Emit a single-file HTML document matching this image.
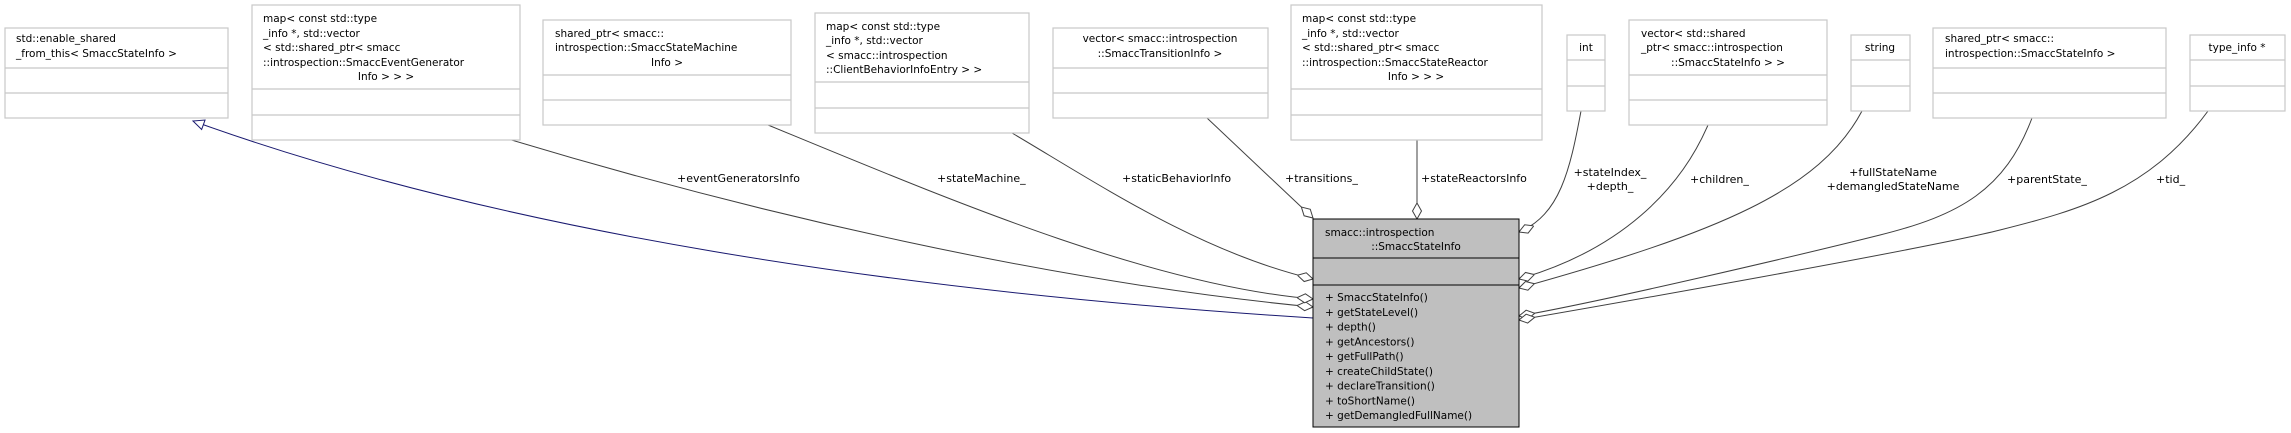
<!DOCTYPE html>
<html><head><meta charset="utf-8"><style>
html,body{margin:0;padding:0;background:#fff;}
svg{display:block;}
text{font-family:"DejaVu Sans","Liberation Sans",sans-serif;font-size:10.5px;fill:#000;}
.bx{fill:#fff;stroke:#c8c8c8;stroke-width:1.2;}
.dv{stroke:#c8c8c8;stroke-width:1.2;}
.e{fill:none;stroke:#404040;stroke-width:1;}
.lb{font-size:11px;}
</style></head><body>
<svg width="2291" height="433" viewBox="0 0 2291 433" xmlns="http://www.w3.org/2000/svg">
<defs>
<marker id="dm" markerUnits="userSpaceOnUse" markerWidth="20" markerHeight="12" refX="16" refY="6" orient="auto">
<path d="M16,6 L8,1.5 L0,6 L8,10.5 Z" fill="#fff" stroke="#404040" stroke-width="1"/>
</marker>
<marker id="tri" markerUnits="userSpaceOnUse" markerWidth="14" markerHeight="12" refX="12" refY="6" orient="auto">
<path d="M12,6 L1,1 L1,11 Z" fill="#fff" stroke="#191970" stroke-width="1"/>
</marker>
</defs>

<!-- edges -->
<path class="e" style="stroke:#191970" d="M1313,318 C900,292 500,232 193,121" marker-end="url(#tri)"/>
<path class="e" d="M508,139 C750,212 1050,282 1313,307" marker-end="url(#dm)"/>
<path class="e" d="M768,125 C950,200 1150,285 1313,299" marker-end="url(#dm)"/>
<path class="e" d="M1012,133 C1100,185 1200,252 1313,279" marker-end="url(#dm)"/>
<path class="e" d="M1207,118 L1313,218" marker-end="url(#dm)"/>
<path class="e" d="M1417,140 L1417,219" marker-end="url(#dm)"/>
<path class="e" d="M1581,111 C1570,170 1560,215 1519,232" marker-end="url(#dm)"/>
<path class="e" d="M1708,125 C1680,190 1620,250 1519,279" marker-end="url(#dm)"/>
<path class="e" d="M1862,111 C1820,190 1720,232 1519,288" marker-end="url(#dm)"/>
<path class="e" d="M2032,118 C2005,190 1960,215 1880,235 S1600,302 1519,316" marker-end="url(#dm)"/>
<path class="e" d="M2208,111 C2150,190 2080,210 2000,230 S1600,306 1519,320" marker-end="url(#dm)"/>

<!-- edge labels -->
<text class="lb" x="677" y="182">+eventGeneratorsInfo</text>
<text class="lb" x="937" y="182">+stateMachine_</text>
<text class="lb" x="1122" y="182">+staticBehaviorInfo</text>
<text class="lb" x="1285" y="182">+transitions_</text>
<text class="lb" x="1421" y="182">+stateReactorsInfo</text>
<text class="lb" x="1610" y="176" text-anchor="middle">+stateIndex_</text>
<text class="lb" x="1610" y="190" text-anchor="middle">+depth_</text>
<text class="lb" x="1690" y="183">+children_</text>
<text class="lb" x="1893" y="176" text-anchor="middle">+fullStateName</text>
<text class="lb" x="1893" y="190" text-anchor="middle">+demangledStateName</text>
<text class="lb" x="2007" y="183">+parentState_</text>
<text class="lb" x="2156" y="183">+tid_</text>

<!-- box1 -->
<rect class="bx" x="5" y="28" width="223" height="90"/>
<line class="dv" x1="5" y1="68" x2="228" y2="68"/><line class="dv" x1="5" y1="93" x2="228" y2="93"/>
<text x="16" y="42">std::enable_shared</text>
<text x="16" y="57">_from_this&lt; SmaccStateInfo &gt;</text>

<!-- box2 -->
<rect class="bx" x="252" y="5" width="268" height="135"/>
<line class="dv" x1="252" y1="89" x2="520" y2="89"/><line class="dv" x1="252" y1="115" x2="520" y2="115"/>
<text x="263" y="22">map&lt; const std::type</text>
<text x="263" y="37">_info *, std::vector</text>
<text x="263" y="51">&lt; std::shared_ptr&lt; smacc</text>
<text x="263" y="66">::introspection::SmaccEventGenerator</text>
<text x="386" y="80" text-anchor="middle">Info &gt; &gt; &gt;</text>

<!-- box3 -->
<rect class="bx" x="543" y="20" width="248" height="105"/>
<line class="dv" x1="543" y1="75" x2="791" y2="75"/><line class="dv" x1="543" y1="100" x2="791" y2="100"/>
<text x="555" y="37">shared_ptr&lt; smacc::</text>
<text x="555" y="51">introspection::SmaccStateMachine</text>
<text x="667" y="66" text-anchor="middle">Info &gt;</text>

<!-- box4 -->
<rect class="bx" x="815" y="13" width="214" height="120"/>
<line class="dv" x1="815" y1="82" x2="1029" y2="82"/><line class="dv" x1="815" y1="108" x2="1029" y2="108"/>
<text x="826" y="30">map&lt; const std::type</text>
<text x="826" y="44">_info *, std::vector</text>
<text x="826" y="59">&lt; smacc::introspection</text>
<text x="826" y="73">::ClientBehaviorInfoEntry &gt; &gt;</text>

<!-- box5 -->
<rect class="bx" x="1053" y="28" width="215" height="90"/>
<line class="dv" x1="1053" y1="68" x2="1268" y2="68"/><line class="dv" x1="1053" y1="93" x2="1268" y2="93"/>
<text x="1160" y="42" text-anchor="middle">vector&lt; smacc::introspection</text>
<text x="1160" y="57" text-anchor="middle">::SmaccTransitionInfo &gt;</text>

<!-- box6 -->
<rect class="bx" x="1291" y="5" width="251" height="135"/>
<line class="dv" x1="1291" y1="89" x2="1542" y2="89"/><line class="dv" x1="1291" y1="115" x2="1542" y2="115"/>
<text x="1302" y="22">map&lt; const std::type</text>
<text x="1302" y="37">_info *, std::vector</text>
<text x="1302" y="51">&lt; std::shared_ptr&lt; smacc</text>
<text x="1302" y="66">::introspection::SmaccStateReactor</text>
<text x="1416" y="80" text-anchor="middle">Info &gt; &gt; &gt;</text>

<!-- int -->
<rect class="bx" x="1567" y="35" width="38" height="76"/>
<line class="dv" x1="1567" y1="60" x2="1605" y2="60"/><line class="dv" x1="1567" y1="86" x2="1605" y2="86"/>
<text x="1586" y="51" text-anchor="middle">int</text>

<!-- box8 -->
<rect class="bx" x="1629" y="20" width="198" height="105"/>
<line class="dv" x1="1629" y1="75" x2="1827" y2="75"/><line class="dv" x1="1629" y1="100" x2="1827" y2="100"/>
<text x="1641" y="37">vector&lt; std::shared</text>
<text x="1641" y="51">_ptr&lt; smacc::introspection</text>
<text x="1728" y="66" text-anchor="middle">::SmaccStateInfo &gt; &gt;</text>

<!-- string -->
<rect class="bx" x="1851" y="35" width="59" height="76"/>
<line class="dv" x1="1851" y1="60" x2="1910" y2="60"/><line class="dv" x1="1851" y1="86" x2="1910" y2="86"/>
<text x="1880" y="51" text-anchor="middle">string</text>

<!-- box10 -->
<rect class="bx" x="1933" y="28" width="233" height="90"/>
<line class="dv" x1="1933" y1="68" x2="2166" y2="68"/><line class="dv" x1="1933" y1="93" x2="2166" y2="93"/>
<text x="1945" y="42">shared_ptr&lt; smacc::</text>
<text x="1945" y="57">introspection::SmaccStateInfo &gt;</text>

<!-- type_info -->
<rect class="bx" x="2190" y="35" width="95" height="76"/>
<line class="dv" x1="2190" y1="60" x2="2285" y2="60"/><line class="dv" x1="2190" y1="86" x2="2285" y2="86"/>
<text x="2237" y="51" text-anchor="middle">type_info *</text>

<!-- main box -->
<rect x="1313" y="219" width="206" height="208" fill="#bfbfbf" stroke="#000" stroke-width="1"/>
<line x1="1313" y1="258" x2="1519" y2="258" stroke="#000"/>
<line x1="1313" y1="285" x2="1519" y2="285" stroke="#000"/>
<text x="1325" y="236">smacc::introspection</text>
<text x="1416" y="250" text-anchor="middle">::SmaccStateInfo</text>
<text x="1325" y="301">+ SmaccStateInfo()</text>
<text x="1325" y="315.8">+ getStateLevel()</text>
<text x="1325" y="330.5">+ depth()</text>
<text x="1325" y="345.3">+ getAncestors()</text>
<text x="1325" y="360">+ getFullPath()</text>
<text x="1325" y="374.8">+ createChildState()</text>
<text x="1325" y="389.5">+ declareTransition()</text>
<text x="1325" y="404.3">+ toShortName()</text>
<text x="1325" y="419">+ getDemangledFullName()</text>
</svg>
</body></html>
